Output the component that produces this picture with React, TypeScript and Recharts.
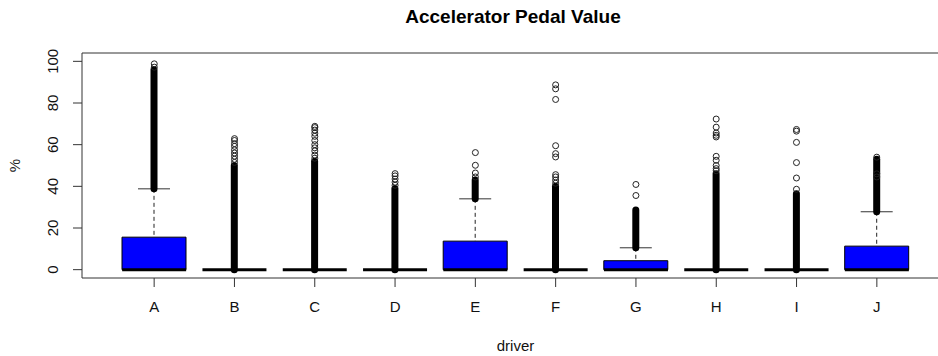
import { ComposedChart, Bar, Scatter, XAxis, YAxis, ReferenceArea } from 'recharts'

const drivers = ['A', 'B', 'C', 'D', 'E', 'F', 'G', 'H', 'I', 'J']
const q1 = [0, 0, 0, 0, 0, 0, 0, 0, 0, 0]
const median = [0, 0, 0, 0, 0, 0, 0, 0, 0, 0]
const q3 = [15.6, 0, 0, 0, 13.7, 0, 4.3, 0, 0, 11.3]
const whiskerHi = [38.8, 0, 0, 0, 34, 0, 10.5, 0, 0, 27.8]
// where the outlier circles overlap so much they read as a solid column
const denseLo = [38.8, 0, 0, 0, 34, 0, 10.5, 0, 0, 27.8]
const denseHi = [96, 50, 52, 39, 43, 40, 28.6, 46, 36.5, 53]
const outliers = [
  [97.2, 98.8],
  [51.5, 53, 54.5, 56, 57.5, 59.2, 60.5, 62, 62.9],
  [53.5, 55, 57, 58.5, 60, 62, 64, 65.5, 67, 68.2, 68.8],
  [40.5, 42, 43.5, 45, 46.1],
  [44.5, 46.4, 50.1, 56.2],
  [41.5, 43, 44.5, 45.6, 54.1, 55.7, 59.5, 81.7, 86.8, 88.7],
  [35.6, 40.9],
  [47.5, 48.5, 50, 52.5, 54.4, 63.7, 64.5, 65.6, 68.4, 72.3],
  [38.6, 44.0, 51.4, 61.1, 66.5, 67.3],
  [44.5, 46, 54],
]
const yTicks = [0, 20, 40, 60, 80, 100]

const rows = drivers.map((driver, i) => ({
  driver,
  box: [q1[i], q3[i]],
  whisker: [q3[i], whiskerHi[i]],
  dense: [denseLo[i], denseHi[i]],
  median: median[i],
}))

const outlierPoints = outliers.flatMap((vals, i) => vals.map(v => ({ pos: i + 1, value: v })))

const FONT = '"Liberation Sans", Arial, sans-serif'
const PAD = { left: 32, right: 32 }

const WhiskerShape = (props: any) => {
  const { x, y, width, height } = props
  if (!height) return null
  const cx = x + width / 2
  return (
    <g>
      <line x1={cx} y1={y} x2={cx} y2={y + height} stroke="#222" strokeDasharray="4 3" />
      <line x1={x + width / 4} y1={y} x2={x + (3 * width) / 4} y2={y} stroke="#333" />
    </g>
  )
}

const DenseShape = (props: any) => {
  const { x, y, width, height } = props
  const cx = x + width / 2
  return <rect x={cx - 3.5} y={y - 3.5} width={7} height={(height || 0) + 7} rx={3.5} fill="#000" />
}

const MedianShape = (props: any) => {
  const { cx, cy } = props
  return <line x1={cx - 32} y1={cy} x2={cx + 32} y2={cy} stroke="#000" strokeWidth={3} />
}

const OutlierShape = (props: any) => {
  const { cx, cy } = props
  return <circle cx={cx} cy={cy} r={3} fill="none" stroke="#222" strokeWidth={1} />
}

const YTick = (props: any) => {
  const { x, y, payload } = props
  return (
    <text
      x={x}
      y={y}
      dy="0.355em"
      textAnchor="middle"
      transform={`rotate(-90, ${x}, ${y})`}
      fontSize={15}
      fill="#111"
    >
      {payload.value}
    </text>
  )
}

export default function App() {
  return (
    <div
      style={{
        position: 'fixed',
        left: 0,
        top: 0,
        width: 938,
        height: 356,
        overflow: 'hidden',
        background: '#fff',
        fontFamily: FONT,
      }}
    >
      <div
        style={{
          position: 'absolute',
          left: 313,
          top: 7,
          width: 400,
          textAlign: 'center',
          fontSize: 19,
          lineHeight: '19px',
          fontWeight: 'bold',
          color: '#000',
        }}
      >
        Accelerator Pedal Value
      </div>
      <ComposedChart width={960} height={356} data={rows} margin={{ top: 53, right: 11, bottom: 0, left: 0 }}>
        <XAxis
          xAxisId="main"
          dataKey="driver"
          type="category"
          padding={PAD}
          height={78}
          axisLine={false}
          tickSize={9}
          tickMargin={14}
          tickLine={{ stroke: '#333' }}
          tick={{ fontSize: 15, fill: '#111' }}
          interval={0}
          label={{ value: 'driver', position: 'insideBottom', offset: 5, fontSize: 15, fill: '#111' }}
        />
        <XAxis xAxisId="box" orientation="top" dataKey="driver" type="category" padding={PAD} height={0} hide />
        <XAxis xAxisId="wh" orientation="top" dataKey="driver" type="category" padding={PAD} height={0} hide />
        <XAxis xAxisId="dense" orientation="top" dataKey="driver" type="category" padding={PAD} height={0} hide />
        <XAxis xAxisId="num" orientation="top" dataKey="pos" type="number" domain={[0.1, 10.9]} allowDataOverflow height={0} hide />
        <YAxis
          width={82}
          domain={[-4, 104]}
          ticks={yTicks}
          allowDataOverflow
          axisLine={false}
          tickSize={9}
          tickMargin={20}
          tickLine={{ stroke: '#333' }}
          tick={<YTick />}
          label={{ value: '%', angle: -90, position: 'insideLeft', offset: 15, fontSize: 15, fill: '#222', style: { textAnchor: 'middle' } }}
        />
        <ReferenceArea
          xAxisId="num"
          x1={0.1}
          x2={10.9}
          y1={-4}
          y2={104}
          fill="none"
          stroke="#333"
          strokeWidth={1}
          ifOverflow="visible"
        />
        <Bar xAxisId="wh" dataKey="whisker" barSize={64} shape={<WhiskerShape />} isAnimationActive={false} />
        <Bar xAxisId="box" dataKey="box" barSize={64} fill="#0000ff" stroke="#000" strokeWidth={1} isAnimationActive={false} />
        <Bar xAxisId="dense" dataKey="dense" barSize={64} shape={<DenseShape />} isAnimationActive={false} />
        <Scatter xAxisId="main" dataKey="median" shape={<MedianShape />} isAnimationActive={false} />
        <Scatter xAxisId="num" data={outlierPoints} dataKey="value" shape={<OutlierShape />} isAnimationActive={false} />
      </ComposedChart>
    </div>
  )
}
